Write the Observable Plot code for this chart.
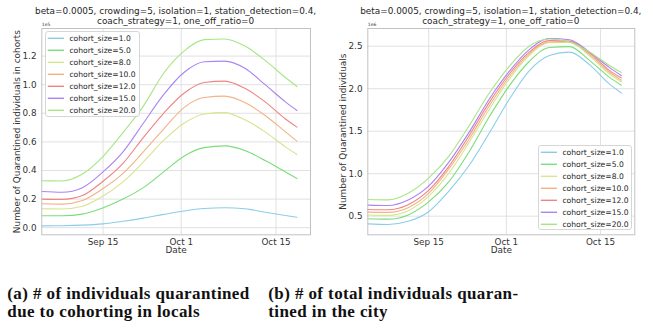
<!DOCTYPE html>
<html><head><meta charset="utf-8">
<script src="https://cdn.jsdelivr.net/npm/d3@7"></script>
<script src="https://cdn.jsdelivr.net/npm/@observablehq/plot@0.6"></script>
<style>
body{margin:0;background:#fff;}
#wrap{position:relative;width:653px;height:329px;overflow:hidden;background:#fff;font-family:"DejaVu Sans";}
.panel{position:absolute;top:0;}
.title{position:absolute;font-family:"DejaVu Sans";line-height:9.8px;text-align:center;color:#262626;white-space:nowrap;transform:translateX(-50%);}
.legend{position:absolute;overflow:visible;}
.caption{position:absolute;font-family:"Liberation Serif";font-weight:bold;font-size:17px;letter-spacing:0.4px;line-height:18px;color:#111;white-space:nowrap;}
</style></head>
<body>
<div id="wrap"></div>
<script>
// ---- data ----
const days = [0, 3, 6, 9, 12, 15, 18, 21, 24, 27, 30, 33, 36, 37.7];
const tickDays = [9.05, 20.6, 34.6];
const tickLabels = ["Sep 15", "Oct 1", "Oct 15"];
const cohortSizes = ["1.0", "5.0", "8.0", "10.0", "12.0", "15.0", "20.0"];
const colors = ["#8bcde9", "#7ade7a", "#d6e58e", "#f2b385", "#ef8484", "#ab84f2", "#a8e585"];

// (a) individuals quarantined due to cohorting (x 1e5)
const locals1  = [0.013, 0.014, 0.018, 0.027, 0.045, 0.067, 0.093, 0.117, 0.134, 0.139, 0.132, 0.108, 0.085, 0.073];
const locals5  = [0.083, 0.083, 0.095, 0.138, 0.200, 0.280, 0.390, 0.500, 0.560, 0.572, 0.540, 0.470, 0.390, 0.344];
const locals8  = [0.132, 0.131, 0.150, 0.220, 0.320, 0.460, 0.610, 0.730, 0.795, 0.805, 0.755, 0.670, 0.565, 0.512];
const locals10 = [0.167, 0.165, 0.190, 0.272, 0.380, 0.530, 0.690, 0.840, 0.910, 0.920, 0.875, 0.785, 0.670, 0.605];
const locals12 = [0.200, 0.198, 0.225, 0.323, 0.450, 0.630, 0.800, 0.940, 1.015, 1.025, 0.975, 0.880, 0.760, 0.703];
const locals15 = [0.253, 0.248, 0.280, 0.388, 0.530, 0.730, 0.930, 1.085, 1.160, 1.165, 1.115, 1.000, 0.880, 0.820];
const locals20 = [0.328, 0.327, 0.375, 0.495, 0.665, 0.850, 1.080, 1.235, 1.315, 1.320, 1.270, 1.170, 1.050, 0.987];

// (b) total individuals quarantined in the city (x 1e6)
const city1  = [0.410, 0.403, 0.440, 0.550, 0.790, 1.090, 1.470, 1.870, 2.210, 2.390, 2.430, 2.280, 2.050, 1.950];
const city5  = [0.470, 0.465, 0.515, 0.665, 0.900, 1.250, 1.660, 2.030, 2.320, 2.485, 2.495, 2.330, 2.130, 2.040];
const city8  = [0.514, 0.510, 0.565, 0.730, 1.000, 1.360, 1.750, 2.110, 2.390, 2.540, 2.545, 2.385, 2.170, 2.080];
const city10 = [0.548, 0.545, 0.600, 0.765, 1.050, 1.400, 1.790, 2.140, 2.410, 2.550, 2.555, 2.400, 2.190, 2.100];
const city12 = [0.579, 0.575, 0.635, 0.800, 1.080, 1.440, 1.830, 2.170, 2.430, 2.565, 2.560, 2.420, 2.210, 2.128];
const city15 = [0.630, 0.625, 0.690, 0.850, 1.130, 1.480, 1.870, 2.200, 2.460, 2.590, 2.575, 2.430, 2.245, 2.155];
const city20 = [0.696, 0.692, 0.770, 0.945, 1.200, 1.555, 1.940, 2.260, 2.500, 2.585, 2.550, 2.430, 2.270, 2.190];

const localsTicks = [0, 0.2, 0.4, 0.6, 0.8, 1.0, 1.2];
const cityTicks = [0.5, 1.0, 1.5, 2.0, 2.5];

const titleLine1 = "beta=0.0005, crowding=5, isolation=1, station_detection=0.4,";
const titleLine2 = "coach_strategy=1, one_off_ratio=0";

const wrap = document.getElementById("wrap");

// font width calibration: keep sans text at DejaVu Sans proportions
let s = 1;
{
  const m = document.createElement("span");
  m.style.cssText = "position:absolute;visibility:hidden;white-space:nowrap;font-family:'DejaVu Sans';font-size:100px;";
  m.textContent = titleLine1;
  wrap.appendChild(m);
  const w = m.getBoundingClientRect().width;
  wrap.removeChild(m);
  if (w > 0) s = Math.max(0.9, Math.min(1.25, 3164.9 / w));
}

// ---- build ----
function toRows(series) {
  return series.flatMap((vals, k) => vals.map((v, i) => ({day: days[i], value: v, cohort: cohortSizes[k]})));
}

function panel({rows, yDomain, yTicks, yLabel, offsetText, width, marginRight}) {
  return Plot.plot({
    width, height: 262,
    marginLeft: 41.3, marginRight, marginTop: 28, marginBottom: 27.7,
    x: {type: "linear", domain: [0, 39.7]},
    y: {domain: yDomain},
    color: {domain: cohortSizes, range: colors},
    style: {fontFamily: "DejaVu Sans", fontSize: (8.8 * s) + "px", color: "#333", background: "white", overflow: "visible"},
    marks: [
      Plot.gridX(tickDays, {stroke: "#dedede", strokeOpacity: 1, strokeWidth: 0.9}),
      Plot.gridY(yTicks, {stroke: "#dedede", strokeOpacity: 1, strokeWidth: 0.9}),
      Plot.line(rows, {x: "day", y: "value", z: "cohort", stroke: "cohort", curve: "monotone-x", strokeWidth: 1.1}),
      Plot.frame({stroke: "#c2c2c2", strokeWidth: 1}),
      Plot.axisX({ticks: tickDays, tickFormat: d => tickLabels[tickDays.indexOf(d)], tickSize: 0, tickPadding: 3.5, label: null}),
      Plot.axisY({ticks: yTicks, tickFormat: d3.format(".1f"), tickSize: 0, tickPadding: 5.3, label: null}),
      Plot.text([yLabel], {text: d => d, frameAnchor: "left", textAnchor: "middle", rotate: -90, dx: -24.6, fontSize: 8.9 * s}),
      Plot.text(["Date"], {text: d => d, frameAnchor: "bottom", dy: 18.5, fontSize: 8.9 * s}),
      Plot.text([offsetText], {text: d => d, frameAnchor: "top-left", dy: -2.5, textAnchor: "start", lineAnchor: "bottom", fontSize: 4.5 * s})
    ]
  });
}

function addPanel(left, opts) {
  const d = document.createElement("div");
  d.className = "panel";
  d.style.left = left + "px";
  d.appendChild(panel(opts));
  wrap.appendChild(d);
}

addPanel(0, {rows: toRows([locals1, locals5, locals8, locals10, locals12, locals15, locals20]),
  yDomain: [-0.0497, 1.393], yTicks: localsTicks, yLabel: "Number of Quarantined individuals in cohorts",
  offsetText: "1e5", width: 326, marginRight: 16});
addPanel(326, {rows: toRows([city1, city5, city8, city10, city12, city15, city20]),
  yDomain: [0.281, 2.708], yTicks: cityTicks, yLabel: "Number of Quarantined individuals",
  offsetText: "1e6", width: 327, marginRight: 18.7});

function addTitle(cx) {
  const t = document.createElement("div");
  t.className = "title";
  t.style.left = cx + "px";
  t.style.top = "7.2px";
  t.style.fontSize = (8.9 * s) + "px";
  t.innerHTML = titleLine1 + "<br>" + titleLine2;
  wrap.appendChild(t);
}
addTitle(175.6);
addTitle(500.8);

function addLegend(left, top, w, h) {
  const svg = d3.create("svg")
    .attr("class", "legend")
    .attr("width", w + 2).attr("height", h + 2)
    .style("left", (left - 1) + "px").style("top", (top - 1) + "px");
  svg.append("rect").attr("x", 1.5).attr("y", 1.5).attr("width", w - 1).attr("height", h - 1)
    .attr("rx", 2.5).attr("fill", "white").attr("fill-opacity", 0.85)
    .attr("stroke", "#d6d6d6").attr("stroke-width", 1);
  const g = svg.selectAll("g.row").data(cohortSizes).join("g")
    .attr("transform", (d, i) => `translate(1, ${1 + 7.3 + 12 * i})`);
  g.append("line").attr("x1", 2.8).attr("x2", 19).attr("y1", 0).attr("y2", 0)
    .attr("stroke", (d, i) => colors[i]).attr("stroke-width", 1.4);
  g.append("text").attr("x", 24.4).attr("y", 0).attr("dy", "0.35em")
    .attr("font-family", "DejaVu Sans").attr("font-size", 7.6 * s).attr("fill", "#262626")
    .text(d => "cohort_size=" + d);
  wrap.appendChild(svg.node());
}
addLegend(45.3, 31, 95, 86);
addLegend(537.7, 145, 94, 85);

function addCaption(left, html) {
  const c = document.createElement("div");
  c.className = "caption";
  c.style.left = left + "px";
  c.style.top = "284.5px";
  c.innerHTML = html;
  wrap.appendChild(c);
}
addCaption(7.3, "(a) # of individuals quarantined<br>due to cohorting in locals");
addCaption(268.3, "(b) # of total individuals quaran-<br>tined in the city");
</script>
</body></html>
